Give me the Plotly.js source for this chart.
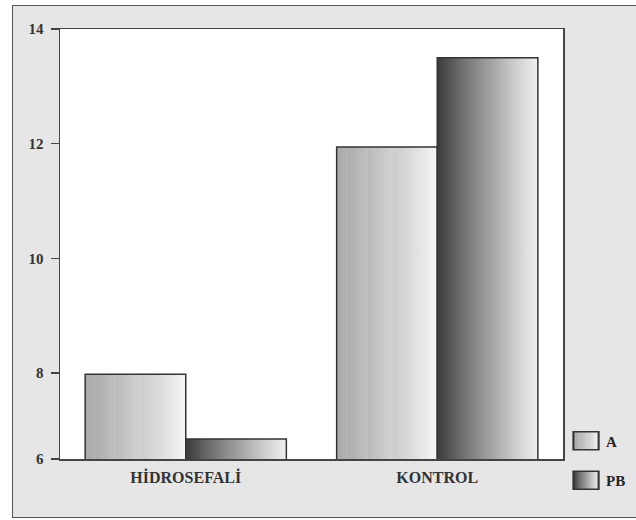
<!DOCTYPE html>
<html>
<head>
<meta charset="utf-8">
<script src="https://cdn.plot.ly/plotly-3.0.1.min.js"></script>
<style>
  html, body { margin: 0; padding: 0; background: #ffffff; overflow: hidden; }
  #frame { position: absolute; left: 12px; top: 5px; width: 624px; height: 513px; box-sizing: border-box;
           background: #e6e6e7; border-left: 1.5px solid #555; border-top: 1.5px solid #555; border-bottom: 1.5px solid #555; }
  #chart { position: absolute; left: 0; top: 0; width: 636px; height: 520px; }
</style>
</head>
<body>
<div id="frame"></div>
<div id="chart"></div>
<script>
// Data
var categories = ["HİDROSEFALİ", "KONTROL"];
var seriesNames = ["A", "PB"];
var valuesA = [7.98, 11.94];
var valuesPB = [6.85, 13.5];
var tickVals = [6.5, 8, 10, 12, 14];
var tickText = ["6", "8", "10", "12", "14"];

var fam = "Liberation Serif, Times New Roman, serif";
var yf = { family: fam, size: 15, color: "#333333", weight: "bold" };
var xf = { family: fam, size: 16, color: "#333333", weight: "bold" };

var traces = [
  { type: "bar", name: seriesNames[0], x: categories, y: valuesA, legendgroup: "a",
    marker: { color: "#cccccc", line: { color: "#333333", width: 1.5 } } },
  { type: "bar", name: seriesNames[1], x: categories, y: valuesPB, legendgroup: "b",
    marker: { color: "#888888", line: { color: "#333333", width: 1.5 } } }
];

var layout = {
  width: 636, height: 520,
  margin: { l: 60, r: 73, t: 29, b: 61, autoexpand: false },
  paper_bgcolor: "rgba(0,0,0,0)",
  plot_bgcolor: "#ffffff",
  font: yf,
  barmode: "group",
  bargap: 0.2,
  bargroupgap: 0,
  showlegend: true,
  legend: { x: 1.006, xanchor: "left", y: 0.08, yanchor: "top", bgcolor: "rgba(0,0,0,0)",
            tracegroupgap: 17, font: { family: fam, size: 15, color: "#222222", weight: "bold" } },
  xaxis: { type: "category", showline: true, linecolor: "#444444", linewidth: 1.5, mirror: true,
           ticks: "", showgrid: false, tickfont: xf, ticklabelstandoff: 3 },
  yaxis: { range: [6.5, 14], tickvals: tickVals, ticktext: tickText, showgrid: false, zeroline: false,
           showline: true, linecolor: "#444444", linewidth: 1.5, mirror: true,
           ticks: "outside", ticklen: 8, tickcolor: "#444444", tickwidth: 1.2, ticklabelstandoff: 4,
           tickfont: yf }
};

Plotly.newPlot("chart", traces, layout, { staticPlot: true, displayModeBar: false }).then(function (gd) {
  var svgNS = "http://www.w3.org/2000/svg";
  var svg = gd.querySelector("svg.main-svg");
  var defs = document.createElementNS(svgNS, "defs");
  function grad(id, stops) {
    var g = document.createElementNS(svgNS, "linearGradient");
    g.setAttribute("id", id);
    g.setAttribute("x1", "0"); g.setAttribute("y1", "0");
    g.setAttribute("x2", "1"); g.setAttribute("y2", "0");
    stops.forEach(function (s) {
      var st = document.createElementNS(svgNS, "stop");
      st.setAttribute("offset", s[0]);
      st.setAttribute("stop-color", s[1]);
      g.appendChild(st);
    });
    defs.appendChild(g);
  }
  grad("gA", [["0", "#a9a9a9"], ["0.1", "#b3b3b3"], ["0.12", "#aeaeae"], ["0.3", "#c0c0c0"], ["0.32", "#bbbbbb"],
              ["0.55", "#d2d2d2"], ["0.57", "#cdcdcd"], ["0.8", "#e2e2e2"], ["1", "#f6f6f6"]]);
  grad("gPB", [["0", "#3a3a3a"], ["0.25", "#707070"], ["0.5", "#9d9d9d"], ["0.75", "#c9c9c9"], ["1", "#f0f0f0"]]);
  svg.insertBefore(defs, svg.firstChild);

  var traceGroups = gd.querySelectorAll(".barlayer .trace");
  var ids = ["gA", "gPB"];
  traceGroups.forEach(function (tg, i) {
    tg.querySelectorAll("path").forEach(function (p) { p.style.fill = "url(#" + ids[i] + ")"; });
  });
  var legendItems = gd.querySelectorAll(".legend .traces");
  legendItems.forEach(function (li, i) {
    li.querySelectorAll(".legendpoints path").forEach(function (p) {
      p.style.fill = "url(#" + ids[i] + ")";
      p.setAttribute("transform", "translate(20,0) scale(2.1,1.5)");
      p.style.strokeWidth = "1px";
      p.style.stroke = "#333333";
    });
  });
});
</script>
</body>
</html>
